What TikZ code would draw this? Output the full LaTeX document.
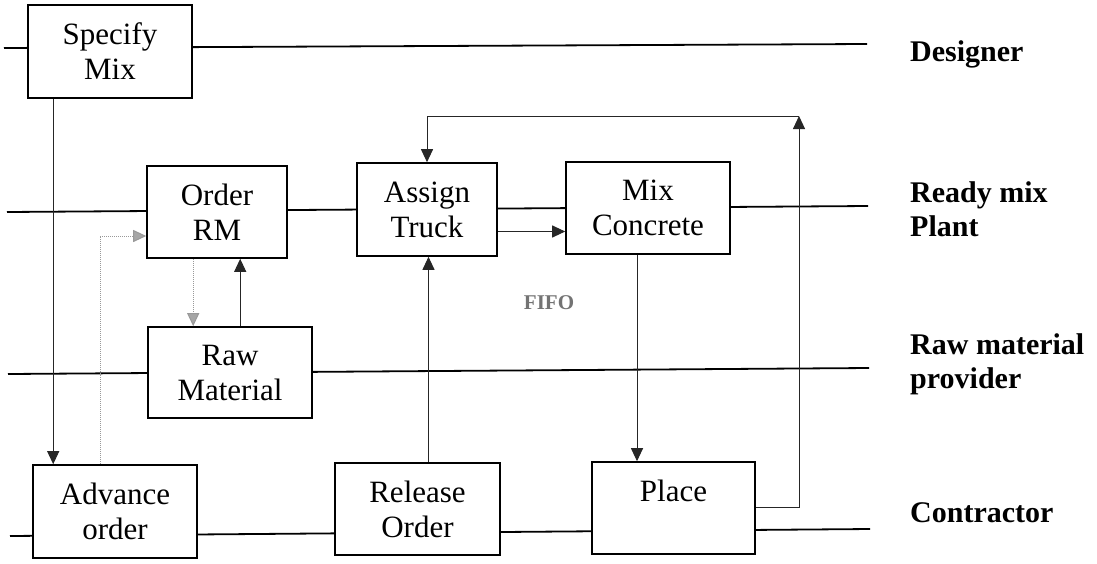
\documentclass[tikz,border=0pt]{standalone}
\usepackage{fontspec}
\setmainfont{Liberation Serif}
\usetikzlibrary{arrows.meta,calc}
\begin{document}
\begin{tikzpicture}[x=1pt,y=-1pt,
  lane/.style={line width=1.8pt,black},
  box/.style={draw,line width=1.6pt,fill=white,align=center,inner sep=0pt,
              font=\fontsize{31}{35}\selectfont},
  lanelabel/.style={align=left,inner sep=0pt,font=\fontsize{30}{34}\selectfont\bfseries},
  arr/.style={line width=1pt,black!85,-{Triangle[length=13pt,width=12pt]}},
  garr/.style={line width=1pt,black!40,densely dotted,-{Triangle[length=13pt,width=12pt,fill=black!35]}},
  note/.style={inner sep=0pt,font=\fontsize{21}{24}\selectfont\bfseries,text=black!55}]
\useasboundingbox (0,0) rectangle (1097,563);
% swim lanes
\coordinate (dL) at (4,48);   \coordinate (dR) at (867,44);
\coordinate (pL) at (7,212);  \coordinate (pR) at (868,206);
\coordinate (rL) at (8,374);  \coordinate (rR) at (869,368);
\coordinate (cL) at (10,536); \coordinate (cR) at (870,529);
\draw[lane] (dL) -- (dR);
\draw[lane] (pL) -- (pR);
\draw[lane] (rL) -- (rR);
\draw[lane] (cL) -- (cR);
% lane labels
\node[lanelabel,anchor=base west] (lbD) at (910,61) {Designer};
\node[lanelabel,anchor=west] (lbP) at (910,209) {Ready mix\\Plant};
\node[lanelabel,anchor=west] (lbR) at (910,364) {Raw material\\provider};
\node[lanelabel,anchor=base west] (lbC) at (910,522) {Contractor};
% activity boxes
\node[box,minimum width=164pt,minimum height=93pt] (spec) at (110,51.5) {Specify\\Mix};
\node[box,minimum width=140pt,minimum height=92pt] (orm) at (217,212) {Order\\RM};
\node[box,minimum width=140pt,minimum height=93pt] (at) at (427,209.5) {Assign\\Truck};
\node[box,minimum width=164pt,minimum height=92pt] (mc) at (648,208) {Mix\\Concrete};
\node[box,minimum width=164pt,minimum height=91pt] (raw) at (230,372.5) {Raw\\Material};
\node[box,minimum width=164pt,minimum height=93pt] (adv) at (115,511.5) {Advance\\order};
\node[box,minimum width=165pt,minimum height=92pt] (ro) at (417.5,509) {Release\\Order};
\node[box,minimum width=163pt,minimum height=92pt] (pl) at (673.5,508) {Place\\\mbox{}};
\node[note] (fifo) at (549,303) {FIFO};
% connectors
\draw[arr] ([xshift=26pt]spec.south west) -- ([xshift=21pt]adv.north west);
\draw[garr] ([xshift=68pt]adv.north west) |- ([yshift=-24pt]orm.west);
\draw[garr] ([xshift=47pt]orm.south west) -- ([xshift=46pt]raw.north west);
\draw[arr] ([xshift=93pt]raw.north west) -- ([xshift=94pt]orm.south west);
\draw[arr] ([yshift=-22pt]at.east) -- ([yshift=-22pt]at.east -| mc.west);
\draw[arr] ([xshift=11pt]ro.north) -- ([xshift=11pt]ro.north |- at.south);
\draw[arr] ([xshift=-11pt]mc.south) -- ([xshift=-11pt]mc.south |- pl.north);
\coordinate (fb) at (799,116);
\draw[arr] ([yshift=1pt]pl.east) -| (fb);
\draw[arr] (fb) -| (at.north);
\end{tikzpicture}
\end{document}
